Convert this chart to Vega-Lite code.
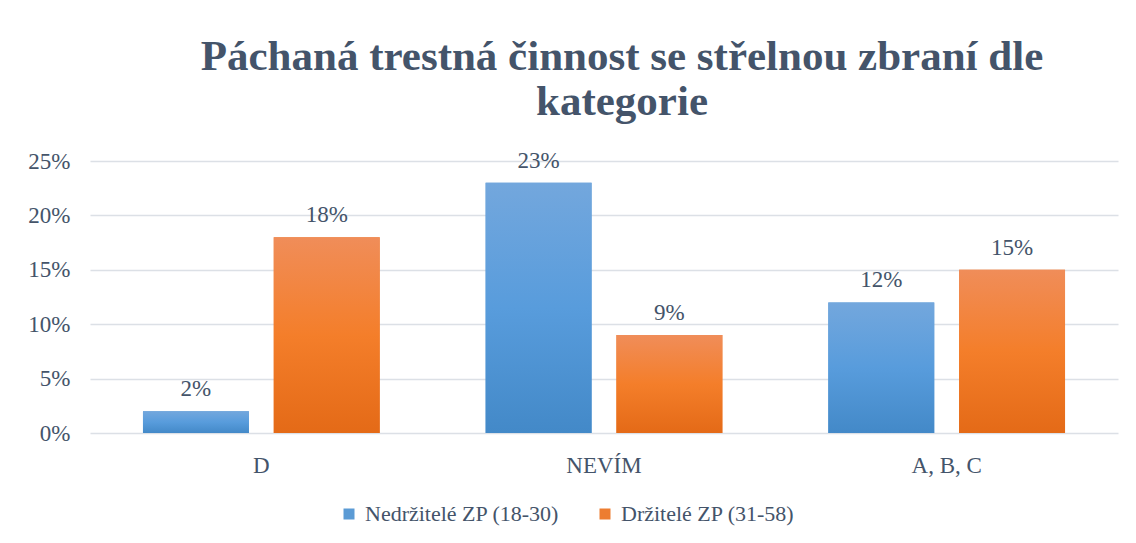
{
  "$schema": "https://vega.github.io/schema/vega-lite/v6.json",
  "width": 1028,
  "height": 272,
  "autosize": {"type": "none"},
  "padding": {"left": 90, "top": 161, "right": 18, "bottom": 110},
  "background": "white",
  "title": {
    "text": ["Páchaná trestná činnost se střelnou zbraní dle", "kategorie"],
    "font": "Liberation Serif",
    "fontSize": 43,
    "fontWeight": "bold",
    "color": "#44546A",
    "anchor": "middle",
    "lineHeight": 45,
    "dx": 18,
    "offset": 26
  },
  "data": {
    "values": [
      {"kategorie": "D", "skupina": "Nedržitelé ZP (18-30)", "podil": 0.02},
      {"kategorie": "D", "skupina": "Držitelé ZP (31-58)", "podil": 0.18},
      {"kategorie": "NEVÍM", "skupina": "Nedržitelé ZP (18-30)", "podil": 0.23},
      {"kategorie": "NEVÍM", "skupina": "Držitelé ZP (31-58)", "podil": 0.09},
      {"kategorie": "A, B, C", "skupina": "Nedržitelé ZP (18-30)", "podil": 0.12},
      {"kategorie": "A, B, C", "skupina": "Držitelé ZP (31-58)", "podil": 0.15}
    ]
  },
  "encoding": {
    "x": {
      "field": "kategorie",
      "type": "nominal",
      "sort": ["D", "NEVÍM", "A, B, C"],
      "scale": {"paddingInner": 0, "paddingOuter": 0},
      "axis": {
        "title": null,
        "labelAngle": 0,
        "domain": false,
        "ticks": false,
        "labelPadding": 21,
        "labelFont": "Liberation Serif",
        "labelFontSize": 23,
        "labelColor": "#44546A"
      }
    },
    "xOffset": {
      "field": "skupina",
      "type": "nominal",
      "sort": ["Nedržitelé ZP (18-30)", "Držitelé ZP (31-58)"],
      "scale": {"paddingInner": 0.19, "paddingOuter": 0.405}
    },
    "y": {
      "field": "podil",
      "type": "quantitative",
      "scale": {"domain": [0, 0.25], "nice": false},
      "axis": {
        "title": null,
        "format": ".0%",
        "values": [0, 0.05, 0.1, 0.15, 0.2, 0.25],
        "domain": false,
        "ticks": false,
        "labelPadding": 20,
        "labelFont": "Liberation Serif",
        "labelFontSize": 23,
        "labelColor": "#44546A",
        "gridColor": "#DCE0E6",
        "gridWidth": 1.5
      }
    }
  },
  "layer": [
    {
      "mark": {"type": "bar"},
      "encoding": {
        "color": {
          "field": "skupina",
          "type": "nominal",
          "sort": ["Nedržitelé ZP (18-30)", "Držitelé ZP (31-58)"],
          "scale": {"range": ["#5B9BD5", "#ED7D31"]},
          "legend": {
            "title": null,
            "orient": "none",
            "direction": "horizontal",
            "legendX": 248,
            "legendY": 342,
            "symbolType": "square",
            "symbolSize": 121,
            "symbolStrokeWidth": 0,
            "labelFont": "Liberation Serif",
            "labelFontSize": 22,
            "labelColor": "#44546A",
            "labelOffset": 5,
            "columnPadding": 34,
            "labelLimit": 400
          }
        }
      }
    },
    {
      "transform": [{"filter": "datum.skupina === 'Nedržitelé ZP (18-30)'"}],
      "mark": {
        "type": "bar",
        "color": {"gradient": "linear", "x1": 0, "y1": 0, "x2": 0, "y2": 1,
          "stops": [{"offset": 0, "color": "#73A7DD"}, {"offset": 0.5, "color": "#589CDC"}, {"offset": 1, "color": "#4389C8"}]}
      },
      "encoding": {}
    },
    {
      "transform": [{"filter": "datum.skupina === 'Držitelé ZP (31-58)'"}],
      "mark": {
        "type": "bar",
        "color": {"gradient": "linear", "x1": 0, "y1": 0, "x2": 0, "y2": 1,
          "stops": [{"offset": 0, "color": "#F08D59"}, {"offset": 0.5, "color": "#F47E2A"}, {"offset": 1, "color": "#E46A17"}]}
      },
      "encoding": {}
    },
    {
      "mark": {"type": "text", "baseline": "bottom", "dy": -10, "font": "Liberation Serif", "fontSize": 23, "color": "#44546A"},
      "encoding": {
        "text": {"field": "podil", "type": "quantitative", "format": ".0%"}
      }
    }
  ],
  "config": {
    "view": {"stroke": null}
  }
}
